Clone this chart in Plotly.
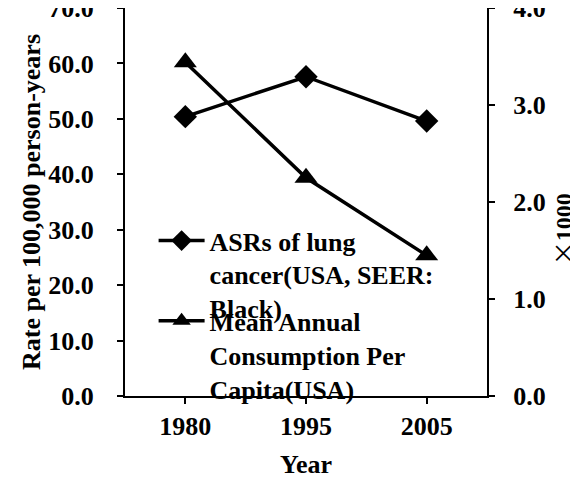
import plotly.graph_objects as go

years = ["1980", "1995", "2005"]
asr_lung = [50.4, 57.6, 49.6]
consumption = [3.44, 2.25, 1.45]
left_ticks = [0, 10, 20, 30, 40, 50, 60, 70]
left_labels = ["0.0", "10.0", "20.0", "30.0", "40.0", "50.0", "60.0", "70.0"]
right_ticks = [0, 1, 2, 3, 4]
right_labels = ["0.0", "1.0", "2.0", "3.0", "4.0"]

FONT = "Liberation Serif, Times New Roman, serif"


def bold_font(size=26):
    return dict(family=FONT, size=size, color="black", weight="bold")


fig = go.Figure()

fig.add_trace(go.Scatter(
    x=years, y=asr_lung,
    name="ASRs of lung<br>cancer(USA, SEER:<br>Black)",
    mode="lines+markers",
    line=dict(color="black", width=3.5),
    marker=dict(symbol="diamond", size=18, color="black"),
    legend="legend2",
))

fig.add_trace(go.Scatter(
    x=years, y=consumption,
    name="Mean Annual<br>Consumption Per<br>Capita(USA)",
    mode="lines+markers",
    line=dict(color="black", width=3.5),
    marker=dict(symbol="triangle-up", size=20, color="black"),
    yaxis="y2",
    legend="legend3",
))


def axis_style():
    return dict(
        showline=True, linecolor="black", linewidth=2,
        ticks="outside", ticklen=6, tickwidth=2, tickcolor="black",
        tickfont=bold_font(), showgrid=False, zeroline=False,
        ticklabeloverflow="allow", automargin=False,
    )


# the page body adds an 8px margin, so the figure is sized to the visible area
fig.update_layout(
    width=570, height=471,
    plot_bgcolor="white", paper_bgcolor="white",
    margin=dict(l=117, r=91, t=0, b=83, autoexpand=False),
    font=bold_font(),
    showlegend=True,
    xaxis=dict(
        **axis_style(), range=[-0.5, 2.5],
        title=dict(text="Year", font=bold_font(), standoff=22),
        ticklabelstandoff=0,
    ),
    yaxis=dict(
        **axis_style(), range=[0, 70],
        tickvals=left_ticks, ticktext=["<b>%s</b>" % t for t in left_labels],
        ticklabelstandoff=18,
        title=dict(text="Rate per 100,000 person-years", font=bold_font(), standoff=0),
    ),
    yaxis2=dict(
        **axis_style(), range=[0, 4],
        tickvals=right_ticks,
        ticktext=["\u00a0\u00a0<b>%s</b>" % t for t in right_labels],
        overlaying="y", side="right",
    ),
    legend2=dict(
        x=0.079, y=0.461, xanchor="left", yanchor="top",
        bgcolor="rgba(0,0,0,0)", font=bold_font(), valign="top",
        itemwidth=46,
    ),
    legend3=dict(
        x=0.079, y=0.254, xanchor="left", yanchor="top",
        bgcolor="rgba(0,0,0,0)", font=bold_font(), valign="top",
        itemwidth=46,
    ),
)

# right axis unit label, placed lower than centre as in the source
fig.add_annotation(
    text="<span style='font-family:Noto Sans CJK SC;font-weight:normal'>×</span><b>1000</b>",
    xref="paper", yref="paper", x=1, y=0.43, xshift=74,
    xanchor="center", yanchor="middle", textangle=-90, showarrow=False,
    font=dict(family=FONT, size=24, color="black"),
)

fig.write_html("out.html")
